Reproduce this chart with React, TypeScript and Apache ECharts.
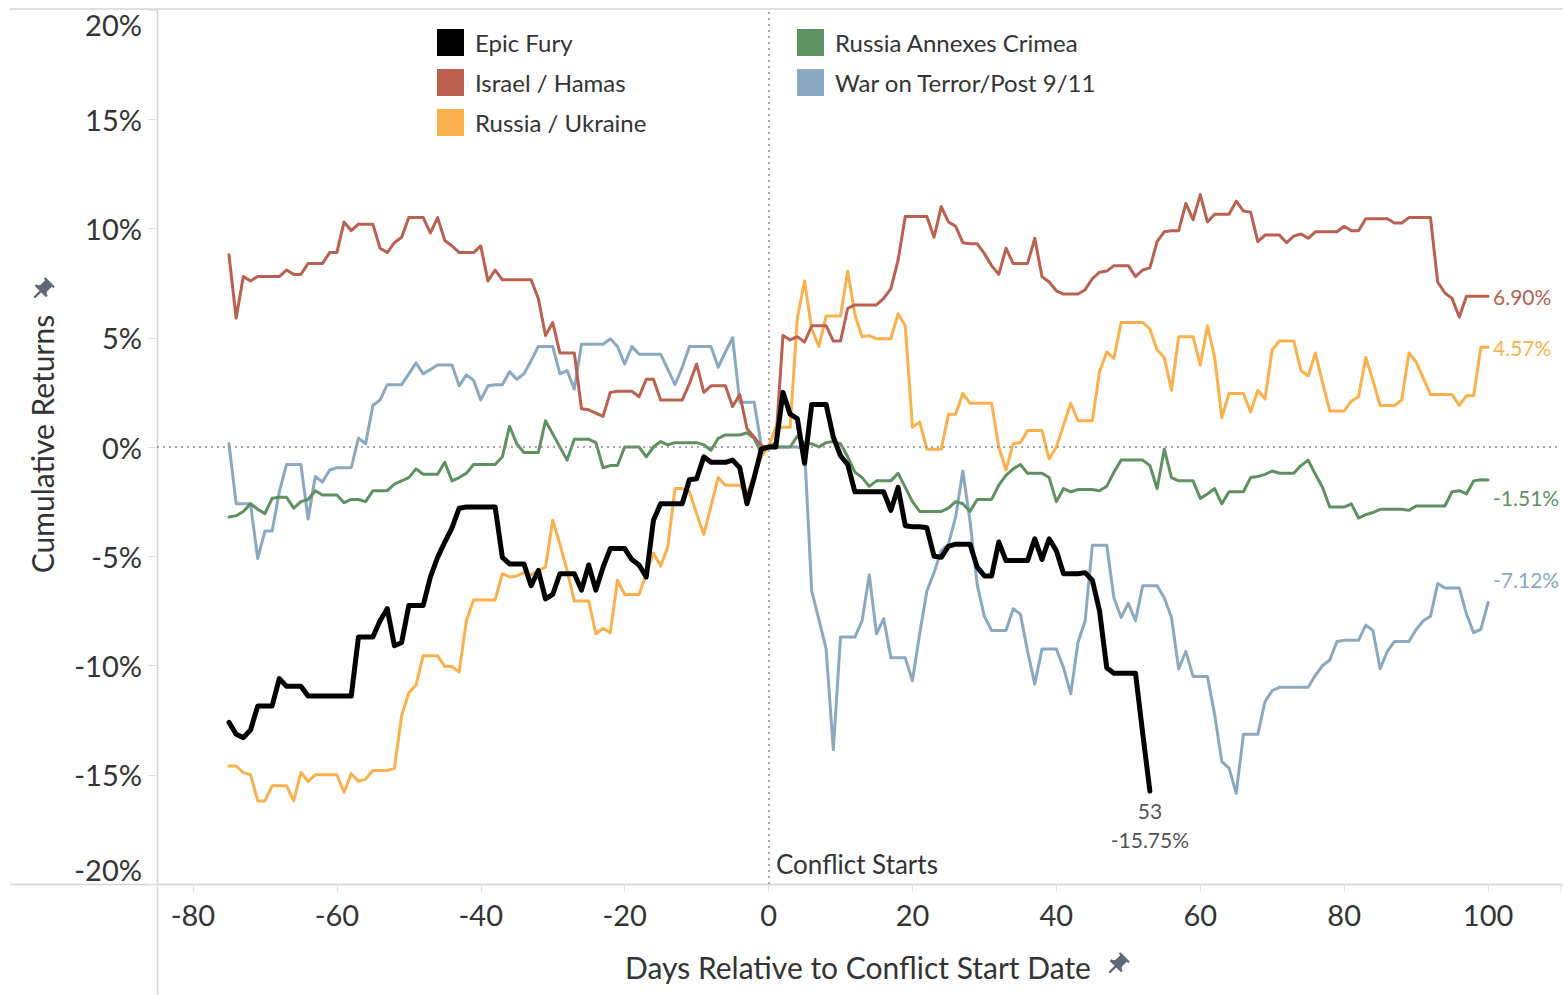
import { useEffect, useRef } from "react";
import * as echarts from "echarts";

// Each series holds one cumulative return (in %) per calendar day, starting at FIRST_DAY.
const FIRST_DAY = -75;

const EPIC_FURY = [
  -12.6, -13.15, -13.3, -12.95, -11.85, -11.85, -11.85, -10.6, -10.95, -10.95,
  -10.95, -11.4, -11.4, -11.4, -11.4, -11.4, -11.4, -11.4, -8.7, -8.7,
  -8.7, -7.95, -7.4, -9.1, -8.95, -7.25, -7.25, -7.25, -5.95, -5.05,
  -4.35, -3.7, -2.8, -2.75, -2.75, -2.75, -2.75, -2.75, -5.05, -5.35,
  -5.35, -5.35, -6.35, -5.65, -6.95, -6.75, -5.8, -5.8, -5.8, -6.55,
  -5.4, -6.55, -5.5, -4.65, -4.65, -4.65, -5.15, -5.4, -5.95, -3.35,
  -2.6, -2.6, -2.6, -2.6, -1.5, -1.45, -0.45, -0.7, -0.7, -0.7,
  -0.6, -0.95, -2.6, -1.4, -0.1, 0, 0, 2.5, 1.5, 1.3,
  -0.75, 1.95, 1.95, 1.95, 0.45, -0.4, -0.8, -2.05, -2.05, -2.05,
  -2.05, -2.05, -2.9, -1.85, -3.6, -3.65, -3.65, -3.7, -5.0, -5.05,
  -4.55, -4.45, -4.45, -4.45, -5.5, -5.9, -5.9, -4.35, -5.2, -5.2,
  -5.2, -5.2, -4.2, -5.15, -4.2, -4.75, -5.8, -5.8, -5.8, -5.75,
  -6.1, -7.5, -10.1, -10.35, -10.35, -10.35, -10.35, -13.1, -15.75,
];

const ISRAEL_HAMAS = [
  8.8, 5.9, 7.8, 7.6, 7.8, 7.8, 7.8, 7.8, 8.1, 7.9,
  7.9, 8.4, 8.4, 8.4, 8.9, 8.9, 10.3, 9.9, 10.2, 10.2,
  10.2, 9.1, 8.9, 9.35, 9.6, 10.5, 10.5, 10.5, 9.8, 10.5,
  9.45, 9.2, 8.9, 8.9, 8.9, 9.2, 7.6, 8.1, 7.65, 7.65,
  7.65, 7.65, 7.65, 6.8, 5.1, 5.7, 4.3, 4.3, 4.3, 1.75,
  1.7, 1.55, 1.4, 2.5, 2.55, 2.55, 2.55, 2.3, 3.1, 3.1,
  2.15, 2.15, 2.15, 2.15, 2.9, 3.8, 2.5, 2.8, 2.8, 2.8,
  1.85, 2.4, 0.85, 0.45, 0.05, 0, 0.2, 5.1, 4.9, 5.05,
  4.8, 5.55, 5.55, 5.55, 4.85, 4.85, 6.35, 6.5, 6.5, 6.5,
  6.5, 6.8, 7.25, 8.55, 10.55, 10.55, 10.55, 10.55, 9.6, 11.0,
  10.3, 10.1, 9.35, 9.3, 9.3, 8.85, 8.3, 7.9, 9.1, 8.4,
  8.4, 8.4, 9.55, 7.8, 7.55, 7.15, 7.0, 7.0, 7.0, 7.2,
  7.7, 8.0, 8.05, 8.3, 8.3, 8.3, 7.8, 8.1, 8.2, 9.4,
  9.85, 9.9, 9.9, 11.15, 10.4, 11.55, 10.3, 10.65, 10.65, 10.65,
  11.25, 10.8, 10.75, 9.4, 9.7, 9.7, 9.7, 9.35, 9.65, 9.75,
  9.55, 9.85, 9.85, 9.85, 9.85, 10.1, 9.9, 9.9, 10.45, 10.45,
  10.45, 10.45, 10.25, 10.25, 10.5, 10.5, 10.5, 10.5, 7.55, 7.05,
  6.8, 5.95, 6.9, 6.9, 6.9, 6.9,
];

const RUSSIA_UKRAINE = [
  -14.6, -14.6, -14.9, -15.0, -16.2, -16.2, -15.5, -15.5, -15.5, -16.2,
  -14.9, -15.3, -15.0, -15.0, -15.0, -15.0, -15.8, -14.95, -15.3, -15.2,
  -14.8, -14.8, -14.8, -14.7, -12.3, -11.25, -10.9, -9.55, -9.55, -9.55,
  -10.05, -10.05, -10.3, -7.95, -7.0, -7.0, -7.0, -7.0, -5.8, -5.95,
  -5.9, -5.75, -5.85, -5.65, -5.5, -3.35, -4.45, -5.65, -7.05, -7.05,
  -7.05, -8.55, -8.3, -8.5, -6.1, -6.75, -6.75, -6.75, -5.8, -4.85,
  -5.45, -4.55, -1.9, -1.9, -2.05, -3.05, -4.0, -2.7, -1.4, -1.75,
  -1.75, -1.75, -2.15, -1.25, -0.45, 0, 0.9, 0.9, 0.9, 5.9,
  7.6, 5.4, 4.6, 6.0, 6.0, 6.0, 8.05, 6.05, 5.05, 5.1,
  4.95, 4.95, 4.95, 6.1, 5.55, 0.9, 1.15, -0.1, -0.1, -0.1,
  1.5, 1.5, 2.45, 2.0, 2.0, 2.0, 2.0, 0.0, -1.05, 0.15,
  0.2, 0.75, 0.75, 0.75, -0.55, 0.0, 1.0, 2.0, 1.2, 1.2,
  1.2, 3.45, 4.35, 4.05, 5.7, 5.7, 5.7, 5.7, 5.4, 4.45,
  4.1, 2.6, 5.05, 5.05, 5.05, 3.75, 5.55, 4.1, 1.35, 2.45,
  2.45, 2.45, 1.6, 2.6, 2.2, 4.45, 4.85, 4.85, 4.85, 3.5,
  3.25, 4.3, 2.95, 1.65, 1.65, 1.65, 2.1, 2.3, 4.1, 3.05,
  1.9, 1.9, 1.9, 2.15, 4.3, 3.9, 3.15, 2.4, 2.4, 2.4,
  2.4, 1.9, 2.35, 2.35, 4.57, 4.57,
];

const CRIMEA = [
  -3.2, -3.15, -2.95, -2.6, -2.85, -3.05, -2.35, -2.3, -2.3, -2.8,
  -2.5, -2.4, -2.0, -2.2, -2.2, -2.2, -2.55, -2.4, -2.4, -2.5,
  -2.0, -2.0, -2.0, -1.7, -1.55, -1.4, -1.0, -1.25, -1.25, -1.25,
  -0.7, -1.55, -1.4, -1.2, -0.8, -0.8, -0.8, -0.8, -0.45, 0.95,
  0.15, -0.25, -0.25, -0.25, 1.2, 0.6, 0.0, -0.6, 0.35, 0.35,
  0.35, 0.2, -0.95, -0.85, -0.85, 0.0, 0.0, 0.0, -0.45, 0.0,
  0.25, 0.1, 0.2, 0.2, 0.2, 0.2, 0.1, -0.15, 0.4, 0.55,
  0.55, 0.55, 0.65, 0.4, -0.3, 0, 0, 0, 0, 0.5,
  0.15, 0.15, 0, 0.2, 0.25, 0.15, -0.45, -1.15, -1.4, -1.8,
  -1.55, -1.55, -1.55, -1.2, -1.85, -2.5, -2.95, -2.95, -2.95, -2.95,
  -2.8, -2.5, -2.6, -2.95, -2.4, -2.4, -2.4, -1.75, -1.3, -1.0,
  -0.8, -1.2, -1.2, -1.2, -1.4, -2.5, -1.9, -2.05, -1.95, -1.95,
  -1.95, -2.0, -1.8, -1.15, -0.6, -0.6, -0.6, -0.6, -0.85, -1.9,
  -0.1, -1.4, -1.55, -1.55, -1.55, -2.35, -2.15, -1.9, -2.6, -2.05,
  -2.05, -2.05, -1.4, -1.35, -1.25, -1.1, -1.2, -1.2, -1.2, -0.85,
  -0.6, -1.25, -1.85, -2.75, -2.75, -2.75, -2.6, -3.25, -3.1, -3.0,
  -2.85, -2.85, -2.85, -2.85, -2.9, -2.7, -2.7, -2.7, -2.7, -2.7,
  -2.05, -2.0, -2.15, -1.55, -1.5, -1.51,
];

const WAR_ON_TERROR = [
  0.15, -2.6, -2.6, -2.6, -5.1, -3.85, -3.85, -2.05, -0.8, -0.8,
  -0.8, -3.3, -1.35, -1.6, -1.05, -0.95, -0.95, -0.95, 0.4, 0.15,
  1.9, 2.15, 2.85, 2.85, 2.85, 3.35, 3.85, 3.35, 3.55, 3.75,
  3.75, 3.75, 2.8, 3.3, 3.05, 2.15, 2.8, 2.85, 2.85, 3.45,
  3.1, 3.35, 3.95, 4.6, 4.6, 4.6, 3.35, 3.5, 2.65, 4.7,
  4.7, 4.7, 4.7, 4.95, 4.6, 3.8, 4.6, 4.25, 4.25, 4.25,
  4.25, 3.55, 2.85, 3.65, 4.6, 4.6, 4.6, 4.6, 3.65, 4.35,
  5.0, 2.05, 2.05, 2.05, 0.05, 0, 0, 0, 0, 0,
  -0.1, -6.6, -7.9, -9.25, -13.85, -8.7, -8.7, -8.7, -7.95, -5.85,
  -8.55, -7.85, -9.65, -9.65, -9.65, -10.7, -8.55, -6.6, -5.75, -4.75,
  -4.45, -3.2, -1.1, -3.4, -6.3, -7.75, -8.4, -8.4, -8.4, -7.4,
  -7.65, -9.35, -10.85, -9.25, -9.25, -9.25, -10.1, -11.3, -8.95, -7.95,
  -4.5, -4.5, -4.5, -6.9, -7.8, -7.15, -7.95, -6.35, -6.35, -6.35,
  -6.9, -7.8, -10.15, -9.35, -10.5, -10.5, -10.5, -12.25, -14.4, -14.7,
  -15.85, -13.15, -13.15, -13.15, -11.65, -11.15, -11.0, -11.0, -11.0, -11.0,
  -11.0, -10.45, -10.0, -9.75, -8.9, -8.85, -8.85, -8.85, -8.15, -8.4,
  -10.15, -9.35, -8.9, -8.9, -8.9, -8.35, -7.95, -7.75, -6.25, -6.45,
  -6.45, -6.45, -7.65, -8.5, -8.35, -7.12,
];

const NAMES = {
  epic: "Epic Fury",
  israel: "Israel / Hamas",
  ukraine: "Russia / Ukraine",
  crimea: "Russia Annexes Crimea",
  terror: "War on Terror/Post 9/11",
};

const COLORS = {
  epic: "#000000",
  israel: "#b9604e",
  ukraine: "#fbb04e",
  crimea: "#5e9160",
  terror: "#8aa8c0",
};

const X_TITLE = "Days Relative to Conflict Start Date";
const Y_TITLE = "Cumulative Returns";
const EVENT_LABEL = "Conflict Starts";

const FONT = "Lato, 'Open Sans', sans-serif";
const TEXT = "#333333";
const RULE = "#d4d4d4";

// Upright push-pin outline on a 24x24 grid.
const PIN_PATH =
  "M16 9V4h1c.55 0 1-.45 1-1s-.45-1-1-1H7c-.55 0-1 .45-1 1s.45 1 1 1h1v5c0 1.66-1.34 3-3 3v2h5.97v7l1 1 1-1v-7H19v-2c-1.66 0-3-1.34-3-3z";

let pinRegistered = false;
function registerPin() {
  if (pinRegistered) return;
  echarts.graphic.registerShape("pin", echarts.graphic.extendPath(PIN_PATH, {}));
  pinRegistered = true;
}

const toPoints = (values: number[]) => values.map((v, i) => [FIRST_DAY + i, v]);

const fmtPct = (v: number) => `${v.toFixed(2)}%`;

function lineSeries(
  name: string,
  values: number[],
  color: string,
  width: number,
  z: number,
  endOffset: number | null
) {
  return {
    type: "line",
    name,
    data: toPoints(values),
    color,
    z,
    showSymbol: false,
    symbol: "none",
    lineStyle: { color, width, join: "round", cap: "round" },
    emphasis: { disabled: true },
    endLabel:
      endOffset === null
        ? { show: false }
        : {
            show: true,
            formatter: (p: any) => fmtPct(p.value[1]),
            color,
            fontSize: 21,
            fontFamily: FONT,
            distance: 5,
            offset: [0, endOffset],
          },
  };
}

function pin(cx: number, cy: number) {
  return {
    type: "pin",
    x: cx - 12,
    y: cy - 12,
    originX: 12,
    originY: 12,
    scaleX: 1.15,
    scaleY: 1.15,
    rotation: -Math.PI / 4,
    style: { fill: "#5f6874" },
    silent: true,
  };
}

export default function App() {
  const ref = useRef<HTMLDivElement>(null);

  useEffect(() => {
    if (!ref.current) return;
    registerPin();
    const chart = echarts.init(ref.current, null, { renderer: "svg" });

    const lastDay = FIRST_DAY + EPIC_FURY.length - 1;
    const lastValue = EPIC_FURY[EPIC_FURY.length - 1];

    const legendBase = {
      orient: "vertical",
      padding: 0,
      icon: "rect",
      itemWidth: 27,
      itemHeight: 27,
      itemGap: 13,
      selectedMode: false,
      textStyle: { fontSize: 24, color: TEXT, fontFamily: FONT, padding: [0, 0, 0, 6] },
    };

    chart.setOption({
      animation: false,
      backgroundColor: "#ffffff",
      textStyle: { fontFamily: FONT },
      grid: { left: 157, right: 0, top: 10, bottom: 111, containLabel: false },
      legend: [
        { ...legendBase, left: 437, top: 29, data: [NAMES.epic, NAMES.israel, NAMES.ukraine] },
        { ...legendBase, left: 797, top: 29, data: [NAMES.crimea, NAMES.terror] },
      ],
      xAxis: {
        type: "value",
        min: -85,
        max: 110,
        splitNumber: 10,
        minInterval: 20,
        maxInterval: 20,
        axisLine: { show: false, onZero: false },
        axisTick: { show: true, length: 8, lineStyle: { color: "#e0e0e0", width: 1 } },
        splitLine: { show: false },
        axisLabel: {
          margin: 16,
          fontSize: 29,
          color: TEXT,
          fontFamily: FONT,
          formatter: (v: number) => (v % 20 === 0 ? String(v) : ""),
        },
      },
      yAxis: {
        type: "value",
        min: -20,
        max: 20,
        interval: 5,
        axisLine: { show: false, onZero: false },
        axisTick: { show: true, length: 9, lineStyle: { color: "#e0e0e0", width: 1 } },
        splitLine: { show: false },
        axisLabel: {
          margin: 15,
          fontSize: 29,
          color: TEXT,
          fontFamily: FONT,
          formatter: (v: number) => `${v}%`,
          verticalAlignMaxLabel: "top",
          verticalAlignMinLabel: "bottom",
        },
      },
      series: [
        {
          ...lineSeries(NAMES.terror, WAR_ON_TERROR, COLORS.terror, 3, 2, -23),
          markLine: {
            silent: true,
            symbol: "none",
            label: { show: false },
            lineStyle: { color: "#8c8c8c", type: [2, 4], width: 1.5 },
            data: [{ xAxis: 0 }, { yAxis: 0 }],
          },
        },
        lineSeries(NAMES.crimea, CRIMEA, COLORS.crimea, 3, 3, 18),
        lineSeries(NAMES.ukraine, RUSSIA_UKRAINE, COLORS.ukraine, 3, 4, 0),
        lineSeries(NAMES.israel, ISRAEL_HAMAS, COLORS.israel, 3, 5, 0),
        lineSeries(NAMES.epic, EPIC_FURY, COLORS.epic, 5, 6, null),
        {
          type: "scatter",
          name: "last-point",
          z: 7,
          silent: true,
          symbol: "circle",
          symbolSize: 2,
          itemStyle: { color: "rgba(0,0,0,0)" },
          data: [[lastDay, lastValue]],
          label: {
            show: true,
            position: "bottom",
            distance: 4,
            align: "center",
            color: "#222222",
            fontSize: 21,
            lineHeight: 29,
            fontFamily: FONT,
            formatter: (p: any) => `${p.value[0]}\n${fmtPct(p.value[1])}`,
          },
        },
      ],
      graphic: [
        { type: "line", silent: true, shape: { x1: 10, y1: 9, x2: 1563, y2: 9 }, style: { stroke: RULE, lineWidth: 1.5 } },
        { type: "line", silent: true, shape: { x1: 157.5, y1: 9, x2: 157.5, y2: 995 }, style: { stroke: RULE, lineWidth: 1.5 } },
        { type: "line", silent: true, shape: { x1: 10, y1: 884.5, x2: 1563, y2: 884.5 }, style: { stroke: RULE, lineWidth: 1.5 } },
        {
          type: "text",
          silent: true,
          x: 776,
          y: 864,
          style: { text: EVENT_LABEL, fill: TEXT, fontSize: 26, fontFamily: FONT, align: "left", verticalAlign: "middle" },
        },
        {
          type: "text",
          silent: true,
          x: 858,
          y: 967,
          style: { text: X_TITLE, fill: TEXT, fontSize: 30, fontFamily: FONT, align: "center", verticalAlign: "middle" },
        },
        {
          type: "text",
          silent: true,
          x: 42,
          y: 444,
          rotation: Math.PI / 2,
          style: { text: Y_TITLE, fill: TEXT, fontSize: 30, fontFamily: FONT, align: "center", verticalAlign: "middle" },
        },
        pin(1117, 965),
        pin(42, 290),
      ],
    });

    return () => chart.dispose();
  }, []);

  return (
    <div
      ref={ref}
      style={{ position: "fixed", left: 0, top: 0, width: 1563, height: 995, background: "#fff" }}
    />
  );
}
